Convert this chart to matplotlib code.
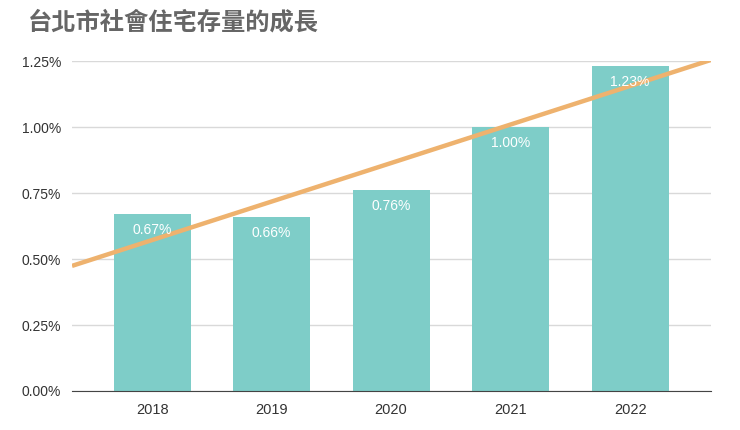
import numpy as np
import matplotlib.pyplot as plt
from matplotlib.ticker import FuncFormatter

plt.rcParams['font.family'] = ['Liberation Sans', 'Noto Sans CJK TC', 'DejaVu Sans']

years = ['2018', '2019', '2020', '2021', '2022']
stock = [0.67, 0.66, 0.76, 1.00, 1.23]  # percent
labels = ['0.67%', '0.66%', '0.76%', '1.00%', '1.23%']

x = np.arange(len(years))
fig = plt.figure(figsize=(7.4, 4.3), dpi=100)
ax = fig.add_axes([0.0973, 0.0907, 0.864, 0.767])

ax.bar(x, stock, width=0.645, color='#7ecdc8', zorder=2)

# linear trendline across the full plot width
k, b = np.polyfit(x, stock, 1)
xl = np.array([-0.67, 4.68])
ax.plot(xl, k * xl + b, color='#eeb26e', lw=3.2, zorder=3, solid_capstyle='butt')

for xi, v, t in zip(x, stock, labels):
    ax.annotate(t, (xi, v), xytext=(0, -16), textcoords='offset pixels',
                ha='center', va='center', color='white', fontsize=10, zorder=4)

ax.set_xlim(-0.67, 4.68)
ax.set_ylim(0, 1.25)
ax.set_yticks([0, 0.25, 0.5, 0.75, 1.0, 1.25])
ax.yaxis.set_major_formatter(FuncFormatter(lambda v, p: f'{v:.2f}%'))
ax.set_xticks(x)
ax.set_xticklabels(years)
ax.grid(axis='y', color='#d9d9d9', lw=1, zorder=0)
for s in ['top', 'right', 'left']:
    ax.spines[s].set_visible(False)
ax.spines['bottom'].set_color('#444444')
ax.tick_params(length=0, labelsize=10, colors='#333333')
ax.tick_params(axis='x', pad=9, labelsize=10.5)
ax.tick_params(axis='y', pad=8)

fig.text(0.037, 0.947, '台北市社會住宅存量的成長', fontsize=17.5, fontweight='bold',
         color='#666666', va='center', ha='left',
         family=['Noto Sans CJK TC', 'DejaVu Sans'])

fig.savefig('out.png', dpi=100)
